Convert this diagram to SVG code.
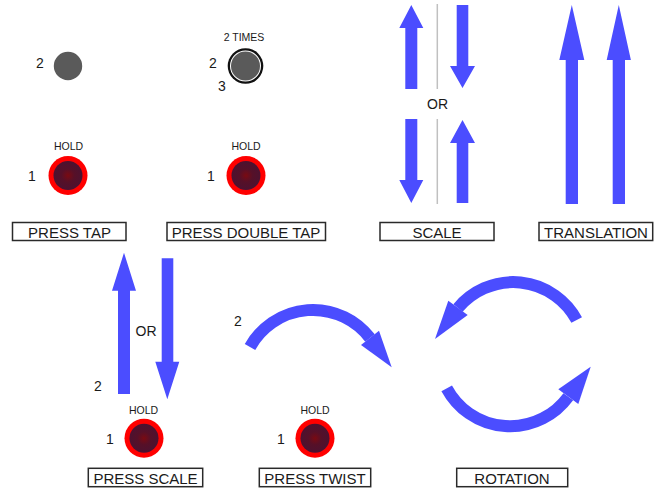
<svg xmlns="http://www.w3.org/2000/svg" width="668" height="490" viewBox="0 0 668 490">
<defs>
<radialGradient id="dark" cx="0.5" cy="0.5" r="0.5">
<stop offset="0" stop-color="#7a0a12"/>
<stop offset="0.45" stop-color="#561028"/>
<stop offset="1" stop-color="#4c1230"/>
</radialGradient>
<style>
.t{font-family:"Liberation Sans",Arial,sans-serif;fill:#1a1a1a;text-anchor:middle}
.num{font-size:14px}
.small{font-size:10.5px}
.lbl{font-size:15px}
.box{fill:#fff;stroke:#2a2a2a;stroke-width:1.5}
.blue{fill:#4b4dff}
.arc{fill:none;stroke:#4b4dff;stroke-width:12}
.sep{stroke:#c0c0c0;stroke-width:1.5}
.gray{fill:#5a5a5a}
.ring{fill:#ff0000}
.core{fill:url(#dark)}
</style>
</defs>
<rect width="668" height="490" fill="#fff"/>

<!-- PRESS TAP -->
<g id="press-tap">
<text class="t num" x="40" y="68">2</text>
<circle class="gray" cx="68" cy="66" r="14.2"/>
<text class="t small" x="68.5" y="150">HOLD</text>
<text class="t num" x="32" y="181">1</text>
<circle class="ring" cx="68" cy="175.5" r="19.5"/>
<circle class="core" cx="68" cy="175.5" r="14.5"/>
<rect class="box" x="12.5" y="222.5" width="113.5" height="18"/>
<text class="t lbl" x="69.5" y="237.5">PRESS TAP</text>
</g>

<!-- PRESS DOUBLE TAP -->
<g id="press-double-tap">
<text class="t small" x="244" y="41">2 TIMES</text>
<text class="t num" x="213" y="68">2</text>
<text class="t num" x="222" y="91">3</text>
<circle cx="245.5" cy="66" r="17.8" fill="#111"/>
<circle cx="245.5" cy="66" r="15.5" fill="#fff"/>
<circle class="gray" cx="245.5" cy="66" r="14.5"/>
<text class="t small" x="246" y="150">HOLD</text>
<text class="t num" x="211" y="181">1</text>
<circle class="ring" cx="246" cy="175.5" r="19.5"/>
<circle class="core" cx="246" cy="175.5" r="14.5"/>
<rect class="box" x="167" y="222.5" width="158.5" height="18"/>
<text class="t lbl" x="246" y="237.5">PRESS DOUBLE TAP</text>
</g>

<!-- SCALE -->
<g id="scale">
<line class="sep" x1="437.3" y1="4" x2="437.3" y2="89"/>
<line class="sep" x1="437.3" y1="119" x2="437.3" y2="204"/>
<polygon class="blue" points="405.3,89 405.3,28 399.3,28 411.3,5 423.3,28 417.3,28 417.3,89"/>
<polygon class="blue" points="456.7,5 456.7,66 450,66 462.5,88 475,66 468.3,66 468.3,5"/>
<text class="t num" x="437.5" y="109">OR</text>
<polygon class="blue" points="405.3,119 405.3,180 399.3,180 411.3,203 423.3,180 417.3,180 417.3,119"/>
<polygon class="blue" points="456.7,203 456.7,143 450,143 462.5,120 475,143 468.3,143 468.3,203"/>
<rect class="box" x="380" y="222.5" width="114" height="18"/>
<text class="t lbl" x="437" y="237.5">SCALE</text>
</g>

<!-- TRANSLATION -->
<g id="translation">
<polygon class="blue" points="565.7,204 565.7,60 559.3,60 571.8,5 584.3,60 578,60 578,204"/>
<polygon class="blue" points="612.7,204 612.7,60 606.7,60 618.8,5 630.9,60 625,60 625,204"/>
<rect class="box" x="539" y="222.5" width="113.7" height="18"/>
<text class="t lbl" x="596" y="237.5">TRANSLATION</text>
</g>

<!-- PRESS SCALE -->
<g id="press-scale">
<polygon class="blue" points="118,394 118,290.7 112,290.7 124,252.7 136,290.7 130,290.7 130,394"/>
<polygon class="blue" points="161.7,258.3 161.7,361.7 155.3,361.7 167.3,399.3 179.3,361.7 173.3,361.7 173.3,258.3"/>
<text class="t num" x="146" y="336">OR</text>
<text class="t num" x="98" y="391">2</text>
<text class="t small" x="143.5" y="413.5">HOLD</text>
<text class="t num" x="110" y="444">1</text>
<circle class="ring" cx="144" cy="438.3" r="19.5"/>
<circle class="core" cx="144" cy="438.3" r="14.5"/>
<rect class="box" x="88.3" y="468.3" width="114.4" height="18.4"/>
<text class="t lbl" x="145.5" y="483.5">PRESS SCALE</text>
</g>

<!-- PRESS TWIST -->
<g id="press-twist">
<text class="t num" x="238" y="326">2</text>
<path class="arc" d="M250,347 A72,72 0 0 1 370,338"/>
<polygon class="blue" points="361,345 391.7,367.3 379,330.7"/>
<text class="t small" x="315" y="413.5">HOLD</text>
<text class="t num" x="281" y="444">1</text>
<circle class="ring" cx="315" cy="438.3" r="19.5"/>
<circle class="core" cx="315" cy="438.3" r="14.5"/>
<rect class="box" x="259.3" y="468.3" width="111.4" height="18.4"/>
<text class="t lbl" x="315" y="483.5">PRESS TWIST</text>
</g>

<!-- ROTATION -->
<g id="rotation">
<path class="arc" d="M576.7,320 A72,72 0 0 0 458,308"/>
<polygon class="blue" points="448.3,300.7 435,339 467.7,315"/>
<path class="arc" d="M446.7,388.3 A72,72 0 0 0 568.3,396.7"/>
<polygon class="blue" points="558.3,389.3 590.7,366.7 578.3,404"/>
<rect class="box" x="456.7" y="468.3" width="111" height="18.4"/>
<text class="t lbl" x="512" y="483.5">ROTATION</text>
</g>
</svg>
